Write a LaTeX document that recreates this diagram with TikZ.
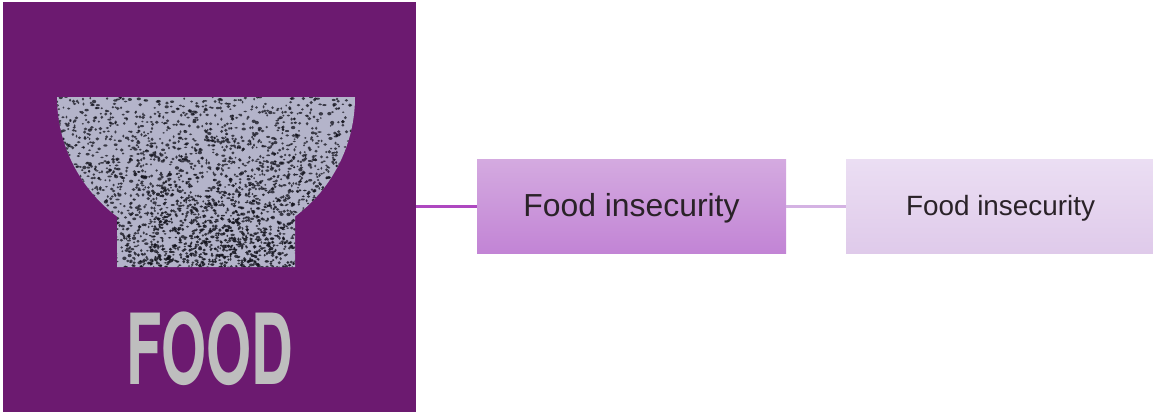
\documentclass[tikz,border=0pt]{standalone}
\usepackage{fontspec}
\setmainfont{Liberation Sans}
\newfontfamily\foodfont{TeX Gyre Heros}
\definecolor{panelc}{HTML}{6C1A70}
\definecolor{bowlc}{HTML}{B4B4CA}
\definecolor{specc}{HTML}{12121C}
\definecolor{foodc}{HTML}{BEBEBE}
\definecolor{txt}{HTML}{2A2228}
\tikzset{
  panelbox/.style={draw=none,fill=panelc,minimum width=309.75pt,minimum height=307.5pt,inner sep=0pt,outer sep=0pt},
  boxa/.style={minimum width=231.75pt,minimum height=70.9pt,inner sep=0pt,outer sep=0pt,top color=boxatop,bottom color=boxabot,text=txt,text height=15.7pt,text depth=0pt,font=\fontsize{23.9pt}{28pt}\selectfont},
  boxb/.style={minimum width=230.25pt,minimum height=70.9pt,inner sep=0pt,outer sep=0pt,top color=boxbtop,bottom color=boxbbot,text=txt,text height=14.1pt,text depth=0pt,font=\fontsize{20.9pt}{25pt}\selectfont},
  linka/.style={draw=linkac,line width=2.25pt},
  linkb/.style={draw=linkbc,line width=2.25pt},
}
\definecolor{boxatop}{HTML}{D4AAE0}
\definecolor{boxabot}{HTML}{C284D5}
\definecolor{boxbtop}{HTML}{EBDEF3}
\definecolor{boxbbot}{HTML}{DFCAEA}
\definecolor{linkac}{HTML}{AE48C0}
\definecolor{linkbc}{HTML}{D4B2E3}
\begin{document}
\begin{tikzpicture}[x=0.75pt,y=-0.75pt]
\useasboundingbox (0,0) rectangle (1153,412);
\fill[white] (0,0) rectangle (1153,412);
\node[panelbox] (panel) at (209.5,207) {};
\node[boxa] (ba) at (631.5,206.4) {Food insecurity};
\node[boxb] (bb) at (999.5,206.4) {\hspace*{1.5pt}Food insecurity};
\draw[linka] (panel.east |- ba.west) -- (ba.west);
\draw[linkb] (ba.east) -- (bb.west);
\begin{scope}
  \clip (57,97) -- (355,97) arc[start angle=0,end angle=53.3,radius=149] -- (295,216.5) -- (295,267) -- (117,267) -- (117,216.5) arc[start angle=126.7,end angle=180,radius=149] -- cycle;
  \fill[bowlc] (50,90) rectangle (360,270);
  \pgfmathsetseed{4217}
  \foreach \i in {1,...,2400}{
    \pgfmathsetmacro{\sx}{57+298*rnd}
    \pgfmathsetmacro{\sy}{97+171*pow(rnd,0.85)}
    \pgfmathsetmacro{\sw}{0.9+1.3*rnd}
    \pgfmathsetmacro{\sh}{0.8+1.0*rnd}
    \fill[specc,opacity=0.75] (\sx,\sy) ellipse[x radius=\sw,y radius=\sh];
  }
  \foreach \i in {1,...,500}{
    \pgfmathsetmacro{\sx}{150+190*rnd}
    \pgfmathsetmacro{\sy}{170+98*pow(rnd,0.6)}
    \pgfmathsetmacro{\sw}{0.9+1.3*rnd}
    \pgfmathsetmacro{\sh}{0.8+1.0*rnd}
    \fill[specc,opacity=0.85] (\sx,\sy) ellipse[x radius=\sw,y radius=\sh];
  }
\end{scope}
\node[text=foodc,inner sep=0pt,xscale=0.59,font=\fontsize{73.5pt}{74pt}\selectfont\foodfont\bfseries] (food) at (210,348.5) {FOOD};
\end{tikzpicture}
\end{document}
